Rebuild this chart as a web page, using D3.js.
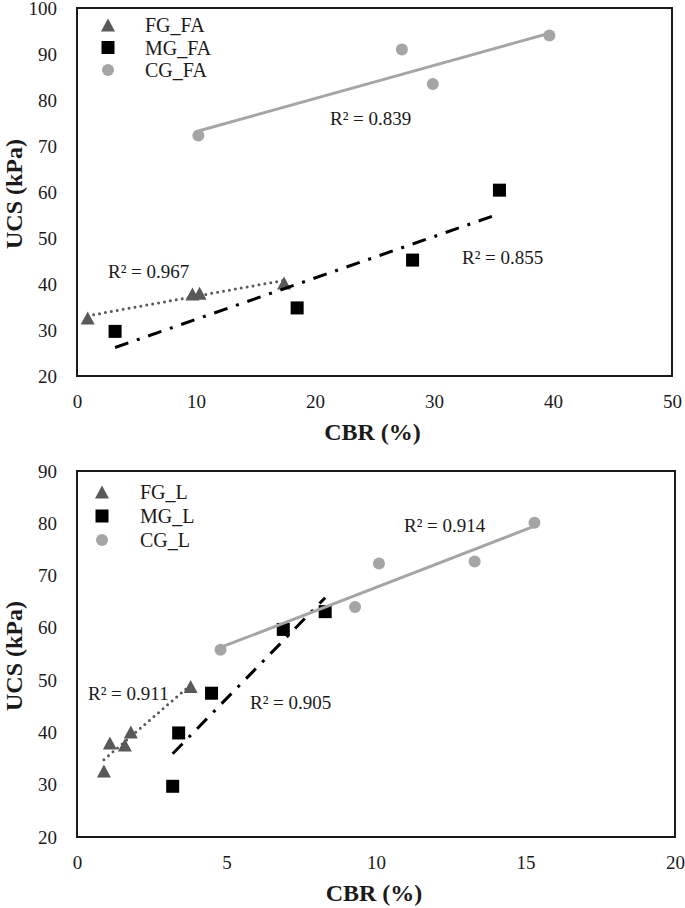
<!DOCTYPE html>
<html lang="en">
<head>
<meta charset="UTF-8">
<title>UCS vs CBR</title>
<script src="https://d3js.org/d3.v7.min.js"></script>
<style>
    body, html {
        margin: 0;
        background: #fff;
    }
    svg { display: block; }
    svg text { font-family: "Liberation Serif", "Times New Roman", Times, "DejaVu Serif", serif; }
</style>
</head>
<body>
<svg id="chart"></svg>
<script>
    // ---- data ----
    // top panel: fly ash mixes
    const faNames = ["FG_FA", "MG_FA", "CG_FA"];
    const fgFaX = [0.9, 9.7, 10.3, 17.4];
    const fgFaY = [32.6, 37.8, 38.0, 40.2];
    const mgFaX = [3.2, 18.5, 28.2, 35.5];
    const mgFaY = [29.7, 34.8, 45.2, 60.4];
    const cgFaX = [10.2, 27.3, 29.9, 39.7];
    const cgFaY = [72.3, 91.0, 83.5, 94.0];
    const faR2 = ["R² = 0.967", "R² = 0.855", "R² = 0.839"];
    const faXTicks = [0, 10, 20, 30, 40, 50];
    const faYTicks = [20, 30, 40, 50, 60, 70, 80, 90, 100];

    // bottom panel: lime mixes
    const lNames = ["FG_L", "MG_L", "CG_L"];
    const fgLX = [0.9, 1.1, 1.6, 1.8, 3.8];
    const fgLY = [32.6, 38.0, 37.6, 40.1, 48.8];
    const mgLX = [3.2, 3.4, 4.5, 6.9, 8.3];
    const mgLY = [29.7, 39.9, 47.5, 59.7, 63.1];
    const cgLX = [4.8, 9.3, 10.1, 13.3, 15.3];
    const cgLY = [55.8, 64.0, 72.3, 72.7, 80.1];
    const lR2 = ["R² = 0.911", "R² = 0.905", "R² = 0.914"];
    const lXTicks = [0, 5, 10, 15, 20];
    const lYTicks = [20, 30, 40, 50, 60, 70, 80, 90];

    const xTitle = "CBR (%)";
    const yTitle = "UCS (kPa)";

    // ---- styles per series (FG, MG, CG) ----
    const styles = [
        { shape: "triangle", fill: "#595959", line: "#595959", dash: "0,6", width: 3, cap: "round" },
        { shape: "square", fill: "#000000", line: "#000000", dash: "14,9,3,9", width: 3, cap: "butt" },
        { shape: "circle", fill: "#a5a5a5", line: "#a5a5a5", dash: null, width: 3, cap: "butt" }
    ];
    const serif = '"Liberation Serif", "Times New Roman", Times, "DejaVu Serif", serif';

    const W = 685, H = 908;
    const svg = d3.select("#chart").attr("width", W).attr("height", H)
        .style("font-family", serif);

    function fit(xs, ys) {
        const mx = d3.mean(xs), my = d3.mean(ys);
        const sxy = d3.sum(xs, (x, i) => (x - mx) * (ys[i] - my));
        const sxx = d3.sum(xs, x => (x - mx) * (x - mx));
        const b = sxy / sxx;
        return x => my + b * (x - mx);
    }

    function marker(g, shape, cx, cy, fill) {
        if (shape === "triangle") {
            const w = 14, h = 13;
            g.append("path")
                .attr("d", `M${cx},${cy - h / 2}L${cx + w / 2},${cy + h / 2}L${cx - w / 2},${cy + h / 2}Z`)
                .attr("fill", fill);
        } else if (shape === "square") {
            g.append("rect")
                .attr("x", cx - 6.5).attr("y", cy - 6.5)
                .attr("width", 13).attr("height", 13)
                .attr("fill", fill);
        } else {
            g.append("circle").attr("cx", cx).attr("cy", cy).attr("r", 6).attr("fill", fill);
        }
    }

    function drawPanel(p) {
        const g = svg.append("g").attr("transform", `translate(${p.left},${p.top})`);
        const x = d3.scaleLinear().domain(d3.extent(p.xTicks)).range([0, p.width]);
        const y = d3.scaleLinear().domain(d3.extent(p.yTicks)).range([p.height, 0]);

        // axes, labels only (no tick marks)
        const yAxis = g.append("g")
            .call(d3.axisLeft(y).tickValues(p.yTicks).tickSize(0).tickPadding(20));
        const xAxis = g.append("g").attr("transform", `translate(0,${p.height})`)
            .call(d3.axisBottom(x).tickValues(p.xTicks).tickSize(0).tickPadding(19));
        [xAxis, yAxis].forEach(a => {
            a.attr("font-family", serif).attr("font-size", 19);
            a.select(".domain").remove();
            a.selectAll("text").attr("fill", "#1a1a1a");
        });

        // series: trendline then markers
        p.series.forEach((s, i) => {
            const st = styles[i];
            const f = fit(s.x, s.y);
            const x0 = d3.min(s.x), x1 = d3.max(s.x);
            g.append("line")
                .attr("x1", x(x0)).attr("y1", y(f(x0)))
                .attr("x2", x(x1)).attr("y2", y(f(x1)))
                .attr("stroke", st.line)
                .attr("stroke-width", st.width)
                .attr("stroke-linecap", st.cap)
                .attr("stroke-dasharray", st.dash);
            const mg = g.append("g");
            s.x.forEach((v, j) => marker(mg, st.shape, x(v), y(s.y[j]), st.fill));
        });

        // R² labels
        p.r2.forEach((t, i) => {
            g.append("text")
                .attr("x", p.r2Pos[i][0]).attr("y", p.r2Pos[i][1])
                .attr("dy", "0.35em")
                .attr("font-size", 19)
                .attr("fill", "#1a1a1a")
                .text(t);
        });

        // legend
        p.names.forEach((n, i) => {
            const ly = p.legend.y + i * p.legend.step;
            marker(g, styles[i].shape, p.legend.x, ly, styles[i].fill);
            g.append("text")
                .attr("x", p.legend.tx).attr("y", ly)
                .attr("dy", "0.35em")
                .attr("font-size", 20)
                .attr("fill", "#1a1a1a")
                .text(n);
        });

        // plot frame
        g.append("rect")
            .attr("width", p.width).attr("height", p.height)
            .attr("fill", "none")
            .attr("stroke", "#1a1a1a")
            .attr("stroke-width", 2);

        // axis titles
        g.append("text")
            .attr("x", p.width / 2 - 2).attr("y", p.height + 64)
            .attr("text-anchor", "middle")
            .attr("font-size", 24).attr("font-weight", "bold")
            .attr("fill", "#1a1a1a")
            .text(xTitle);
        g.append("text")
            .attr("transform", `translate(${-p.left + 14},${p.height / 2 + 2}) rotate(-90)`)
            .attr("text-anchor", "middle")
            .attr("dy", "0.35em")
            .attr("font-size", 24).attr("font-weight", "bold")
            .attr("fill", "#1a1a1a")
            .text(yTitle);
    }

    drawPanel({
        left: 77, top: 8, width: 595, height: 368,
        xTicks: faXTicks, yTicks: faYTicks,
        names: faNames,
        series: [{ x: fgFaX, y: fgFaY }, { x: mgFaX, y: mgFaY }, { x: cgFaX, y: cgFaY }],
        r2: faR2,
        r2Pos: [[31, 263], [385, 249], [253, 110]],
        legend: { x: 31, y: 17, step: 22.5, tx: 68 }
    });

    drawPanel({
        left: 77, top: 471, width: 598, height: 366,
        xTicks: lXTicks, yTicks: lYTicks,
        names: lNames,
        series: [{ x: fgLX, y: fgLY }, { x: mgLX, y: mgLY }, { x: cgLX, y: cgLY }],
        r2: lR2,
        r2Pos: [[11, 222], [173, 231], [327, 54]],
        legend: { x: 25, y: 21, step: 24, tx: 63 }
    });
</script>
</body>
</html>
